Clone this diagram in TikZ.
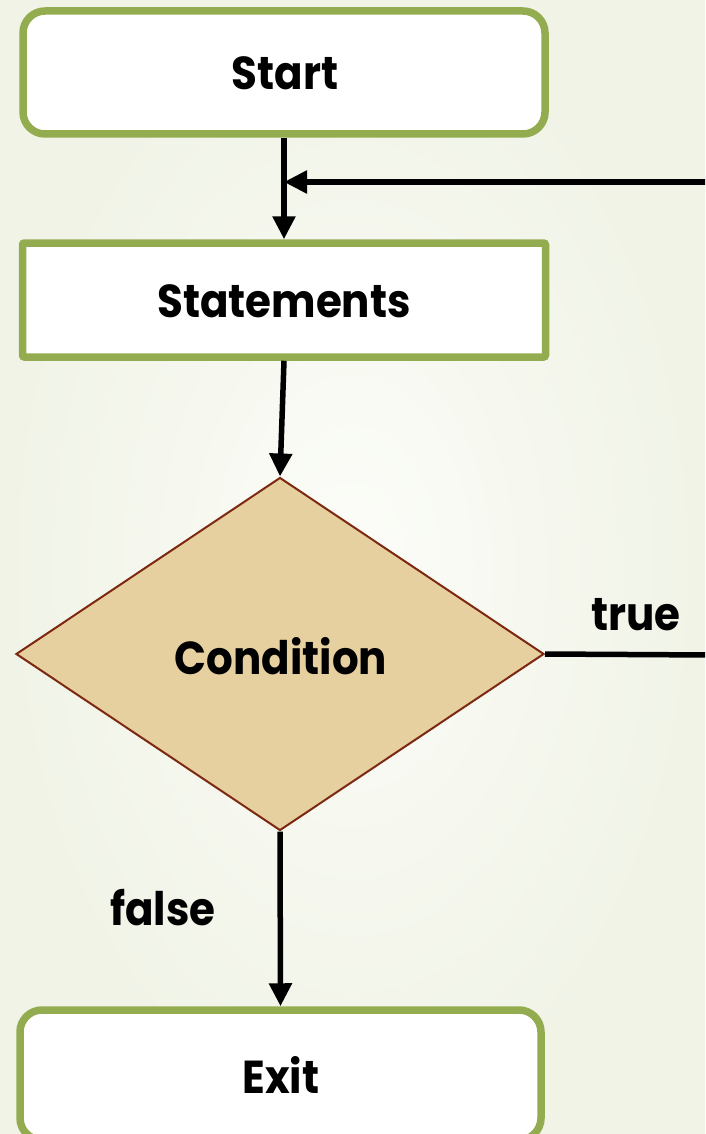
\documentclass[tikz,border=0pt]{standalone}
\usepackage{fontspec}
\setmainfont{Poppins}
\usetikzlibrary{shapes.geometric,arrows.meta}
\definecolor{boxgreen}{RGB}{148,172,80}
\definecolor{diafill}{RGB}{231,208,160}
\definecolor{diadraw}{RGB}{125,40,16}
\definecolor{bgin}{RGB}{252,253,249}
\definecolor{bgout}{RGB}{240,243,230}
\tikzset{
  flowbox/.style={draw=boxgreen, fill=white, line width=7.5pt, inner sep=0pt},
  decision/.style={diamond, draw=diadraw, fill=diafill, line width=2pt, inner sep=0pt, aspect=1.5},
  lbl/.style={font=\fontsize{42}{46}\selectfont\bfseries, text=black, yscale=1.1},
  arr/.style={line width=5.5pt, -{Triangle[length=23pt,width=22pt]}},
  plain/.style={line width=5.5pt}
}
\begin{document}
\begin{tikzpicture}[x=1pt,y=-1pt]
\useasboundingbox (0,0) rectangle (705,1134);
\clip (0,0) rectangle (705,1134);
\shade[inner color=bgin, outer color=bgout] (0,0) rectangle (705,1134);
\node[flowbox, rounded corners=22pt, minimum width=522pt, minimum height=123pt] (start) at (284,72.5) {};
\node[lbl] (starttxt) at (285,73) {Start};
\node[flowbox, rounded corners=2pt, minimum width=523pt, minimum height=114pt] (stmts) at (284,300) {};
\node[lbl] (stmtstxt) at (284,301) {Statements};
\node[decision, minimum width=528pt, minimum height=353pt] (cond) at (280,654) {};
\node[lbl] (condtxt) at (281,656) {Condition};
\node[flowbox, rounded corners=22pt, minimum width=521pt, minimum height=130pt] (exit) at (280.5,1075) {};
\node[lbl] (exittxt) at (281,1075) {Exit};
\coordinate (loopR) at (712,182);
\coordinate (trueR) at (712,655);
\draw[arr] (start.south) -- (stmts.north);
\draw[arr] (loopR) -- (start.south |- loopR);
\draw[arr] (stmts.south) -- (cond.north);
\draw[plain] (cond.east) -- (trueR);
\draw[arr] (cond.south) -- (exit.north);
\node[lbl] (truelbl) at (636,615) {true};
\node[lbl] (falselbl) at (163,908) {false};
\end{tikzpicture}
\end{document}
